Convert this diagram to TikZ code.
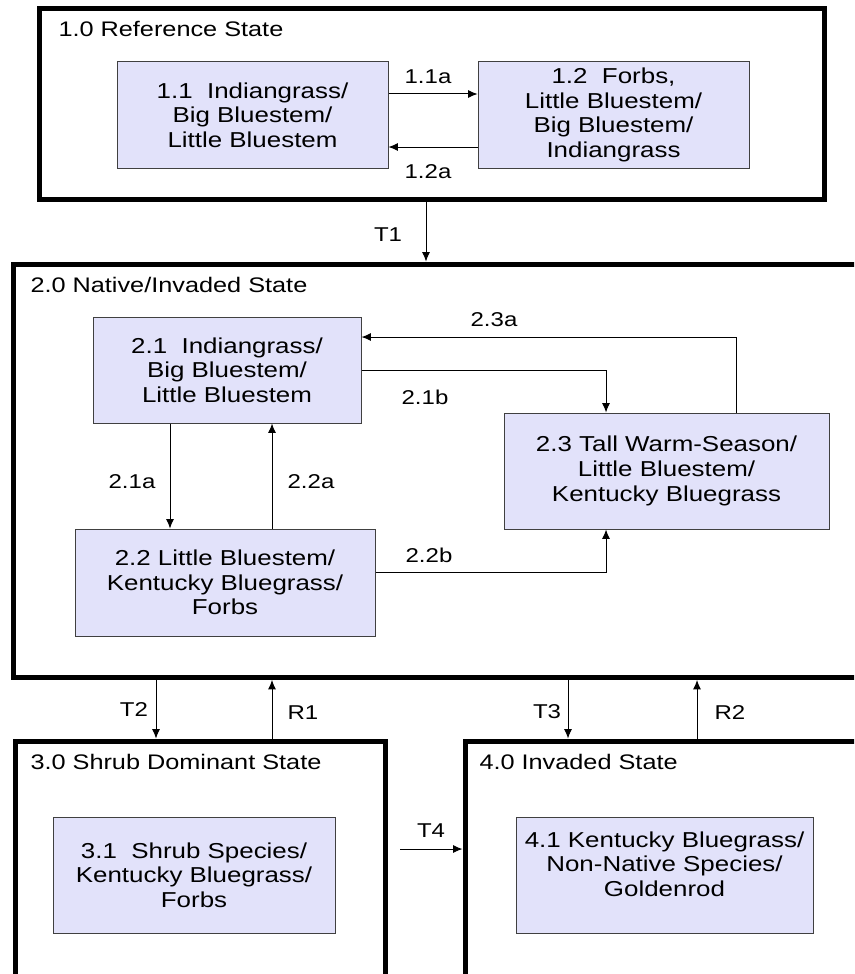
\documentclass[tikz,border=0pt]{standalone}
\usepackage{fontspec}
\setmainfont{Liberation Sans}[FakeStretch=1.2]
\usetikzlibrary{arrows.meta}

\tikzset{every picture/.style={line width=0.75pt}}
\tikzset{
  statebox/.style={draw, line width=3.75pt, inner sep=0pt},
  plantbox/.style={draw={rgb, 255:red, 64; green, 64; blue, 64 }, fill={rgb, 255:red, 226; green, 226; blue, 250 }, align=center, inner sep=0pt, font=\fontsize{16.2}{18.5}\selectfont},
  statetitle/.style={anchor=west, inner sep=0pt, font=\fontsize{15.8}{18}\selectfont},
  pathlabel/.style={inner sep=0pt, font=\fontsize{15}{16}\selectfont},
  pathway/.style={-{Latex[length=7pt,width=6pt]}}
}

\begin{document}
\begin{tikzpicture}[x=0.75pt,y=0.75pt,yscale=-1,xscale=1]
	\useasboundingbox (0,0) rectangle (854,974);
	\fill[white] (0,0) rectangle (854,974);
	\clip (0,0) rectangle (854,974);

	% State boxes
	\node[statebox, minimum width=588.75pt, minimum height=143.25pt] (s1) at (432,104) {};
	\node[statebox, minimum width=642.4pt, minimum height=310.1pt] (s2) at (441.75,470.75) {};
	\node[statebox, minimum width=277.5pt, minimum height=186.75pt] (s3) at (200,865.5) {};
	\node[statebox, minimum width=303.75pt, minimum height=186.75pt] (s4) at (667.5,865.5) {};

	% State titles
	\node[statetitle] (t1) at (58,29) {1.0 Reference State};
	\node[statetitle] (t2) at (30,285) {2.0 Native/Invaded State};
	\node[statetitle] (t3) at (30,762) {3.0 Shrub Dominant State};
	\node[statetitle] (t4) at (479,762) {4.0 Invaded State};

	% Community phases
	\node[plantbox, minimum width=203.25pt, minimum height=79.5pt] (b11) at (252.5,115) {1.1\ \ Indiangrass/\\Big Bluestem/\\Little Bluestem};
	\node[plantbox, minimum width=203.25pt, minimum height=79.5pt] (b12) at (613.5,115) {1.2\ \ Forbs,\\Little Bluestem/\\Big Bluestem/\\Indiangrass};
	\node[plantbox, minimum width=201pt, minimum height=79.5pt] (b21) at (227,370) {2.1\ \ Indiangrass/\\Big Bluestem/\\Little Bluestem};
	\node[plantbox, minimum width=225pt, minimum height=80.25pt] (b22) at (225,582.5) {2.2 Little Bluestem/\\Kentucky Bluegrass/\\Forbs};
	\node[plantbox, minimum width=243.75pt, minimum height=87pt] (b23) at (666.5,471) {2.3 Tall Warm-Season/\\Little Bluestem/\\Kentucky Bluegrass};
	\node[plantbox, minimum width=211.5pt, minimum height=87pt] (b31) at (194,875) {3.1\ \ Shrub Species/\\Kentucky Bluegrass/\\Forbs};
	\node[plantbox, minimum width=222.75pt, minimum height=87pt] (b41) at (664.5,875) {};
	\node[align=center, inner sep=0pt, font=\fontsize{16.2}{18.5}\selectfont] (b41text) at (664.5,864) {4.1 Kentucky Bluegrass/\\Non-Native Species/\\Goldenrod};

	% Pathways within 1.0
	\draw[pathway] (b11.east |- 0,94) -- (b12.west |- 0,94);
	\draw[pathway] (b12.west |- 0,147) -- (b11.east |- 0,147);
	\node[pathlabel] (l11a) at (428,77) {1.1a};
	\node[pathlabel] (l12a) at (428,172) {1.2a};

	% Transition T1
	\draw[pathway] (s1.south -| 426,0) -- (s2.north -| 426,0);
	\node[pathlabel] (lT1) at (388,235) {T1};

	% Pathways within 2.0
	\draw[pathway] (b23.north -| 736,0) |- (b21.east |- 0,337);
	\draw[pathway] (b21.east |- 0,370) -| (b23.north -| 606,0);
	\draw[pathway] (b21.south -| 170,0) -- (b22.north -| 170,0);
	\draw[pathway] (b22.north -| 272,0) -- (b21.south -| 272,0);
	\draw[pathway] (b22.east |- 0,572) -| (b23.south -| 606,0);
	\node[pathlabel] (l23a) at (494,320) {2.3a};
	\node[pathlabel] (l21b) at (425,397) {2.1b};
	\node[pathlabel] (l21a) at (132,482) {2.1a};
	\node[pathlabel] (l22a) at (311,482) {2.2a};
	\node[pathlabel] (l22b) at (429,555) {2.2b};

	% Transitions and restorations between states
	\draw[pathway] (s2.south -| 156,0) -- (s3.north -| 156,0);
	\draw[pathway] (s3.north -| 272,0) -- (s2.south -| 272,0);
	\draw[pathway] (s2.south -| 568,0) -- (s4.north -| 568,0);
	\draw[pathway] (s4.north -| 697,0) -- (s2.south -| 697,0);
	\node[pathlabel] (lT2) at (134,710) {T2};
	\node[pathlabel] (lR1) at (303,713) {R1};
	\node[pathlabel] (lT3) at (547,712) {T3};
	\node[pathlabel] (lR2) at (730,713) {R2};

	\coordinate (t4start) at (400,849);
	\draw[pathway] (t4start) -- (s4.west |- t4start);
	\node[pathlabel] (lT4) at (431,831) {T4};

\end{tikzpicture}
\end{document}
